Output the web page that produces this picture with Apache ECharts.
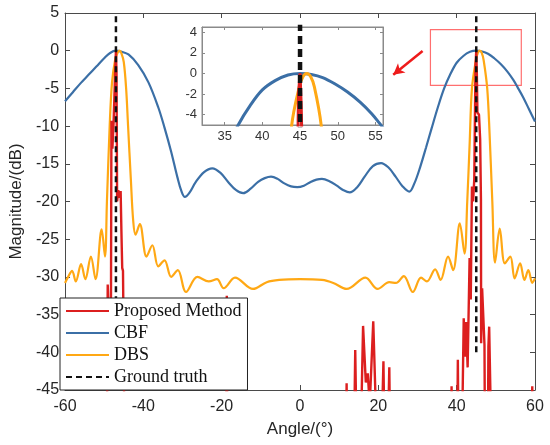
<!DOCTYPE html>
<html>
<head>
<meta charset="utf-8">
<title>Beam pattern</title>
<script src="https://cdn.jsdelivr.net/npm/echarts@6/dist/echarts.min.js"></script>
<style>
  html, body { margin: 0; padding: 0; background: #fff; }
  #chart { width: 550px; height: 445px; }
</style>
</head>
<body>
<div id="chart"></div>
<script>
// CBF beam pattern, [angle, dB]
var cbfCurve = [
    [-60, -6.7], [-58, -5.5], [-56, -4.3], [-54, -3.2], [-52, -2.1], [-50, -1.0], [-48.5, -0.3], [-47, 0],
    [-45.5, -0.15], [-43.8, -0.5], [-41.3, -1.9], [-38.7, -4.2], [-36.2, -7.5], [-34.6, -10.2], [-32.9, -13.4],
    [-31.3, -16.8], [-30.3, -18.6], [-29.4, -19.4], [-28.3, -18.9], [-26.6, -17.4], [-24.5, -16.1], [-22.4, -15.6],
    [-20.3, -16.2], [-18.2, -17.5], [-16.3, -18.5], [-14.5, -18.9], [-12.6, -18.3], [-10.7, -17.4], [-9, -16.9],
    [-7.4, -16.7], [-5.7, -17.0], [-4, -17.6], [-2.3, -18.0], [-0.7, -18.1], [1, -17.9], [2.7, -17.4], [4.2, -17.1],
    [5.6, -17.0], [7.5, -17.3], [9.4, -17.9], [11.1, -18.5], [12.7, -18.8], [14.6, -18.1], [16.5, -16.7],
    [18.6, -15.3], [20.7, -14.9], [22.6, -15.5], [24.4, -16.7], [26.2, -18.0], [27.9, -18.7], [29.2, -17.6],
    [30.7, -15.4], [32.2, -12.8], [33.6, -10.3], [35.2, -7.5], [36.8, -5.0], [38.4, -3.1], [40, -1.6], [41.7, -0.7],
    [43.4, -0.15], [45, 0], [46.5, -0.1], [48, -0.4], [49.6, -1.0], [51.3, -1.8], [53, -2.8], [54.5, -3.9],
    [55.5, -4.8], [57, -6.2], [58.5, -7.8], [60, -9.4]
];

// DBS beam pattern
var dbsCurve = [
    [-60, -30.8], [-59.2, -30.0], [-58.2, -29.2], [-57.25, -30.6], [-55.9, -28.3], [-54.8, -30.3], [-53.4, -27.3],
    [-52.2, -30.3], [-50.65, -23.7], [-49.8, -27.3], [-49.3, -20], [-48.6, -10], [-48.0, -4.2], [-47.2, -1.2],
    [-46.6, -0.3], [-46.1, 0], [-45.6, -0.35], [-45.0, -1.5], [-44.4, -5], [-43.9, -10], [-43.2, -17], [-42.6, -22.5],
    [-42.0, -24.4], [-40.9, -23.0], [-39.2, -27.3], [-37.7, -25.8], [-36.2, -28.6], [-34.6, -27.8], [-32.9, -30.0],
    [-31.2, -29.1], [-29.1, -32.0], [-26.2, -30.0], [-23.3, -30.6], [-21.2, -30.3], [-19.5, -31.5], [-16.6, -30.1],
    [-12.0, -31.6], [-8.5, -30.7], [-5.3, -30.4], [0, -30.3], [5.6, -30.4], [8.5, -30.8], [11.9, -31.6],
    [16.7, -30.1], [19.8, -31.6], [22.8, -30.7], [24.5, -30.8], [26.5, -29.9], [28.8, -32.0], [30.9, -30.1],
    [32.4, -30.6], [34.5, -29.0], [35.9, -30.4], [37.8, -27.3], [39.1, -29.1], [40.8, -22.9], [42.0, -26.9],
    [42.7, -20], [43.3, -12.5], [43.9, -5], [44.9, -1.3], [45.4, -0.3], [45.9, 0], [46.4, -0.3], [46.9, -1.3],
    [47.8, -5], [48.4, -11], [49.1, -20], [49.8, -28.1], [51.0, -23.6], [52.3, -28.2], [53.7, -27.3], [54.8, -30.2],
    [56.2, -28.2], [57.3, -30.4], [58.3, -29.1], [59.3, -30.8], [60, -30.2]
];

// proposed method (spiky, values under -45 fall below the axis)
var proposedCurve = [
    [-60, -60], [-49.4, -60], [-49.1, -31], [-48.9, -34], [-48.5, -45], [-48.3, -40], [-48.15, -9.3], [-47.9, -13],
    [-47.6, -9.5], [-47.3, -9.3], [-47.15, -2], [-47.0, 0], [-46.85, -3], [-46.7, -20], [-46.4, -18.5],
    [-46.1, -19.5], [-45.8, -18.6], [-45.6, -24], [-45.4, -28.8], [-45.2, -29.2], [-45.0, -40], [-44.7, -60],
    [-18.9, -60], [-18.7, -32.5], [-18.5, -60],
    [11.6, -60], [11.9, -44.1], [12.2, -60], [13.6, -60], [14.1, -39.7], [14.7, -60], [15.5, -52], [16.1, -36.5],
    [16.8, -44], [17.3, -42.8], [17.8, -47], [18.7, -35.9], [19.5, -50], [20.0, -60], [20.8, -52], [21.3, -41.2],
    [21.8, -60], [22.4, -52], [22.8, -42], [23.2, -60],
    [38.4, -60], [38.7, -44.5], [39.0, -60], [40.0, -60], [40.3, -41], [40.6, -60], [41.4, -50], [41.8, -35.5],
    [42.1, -40.6], [42.4, -36], [42.8, -42], [43.3, -27.5], [43.6, -33], [43.9, -18], [44.2, -20], [44.5, -17],
    [44.8, -2], [45.0, 0], [45.15, -3], [45.3, -8.2], [45.7, -8.5], [46.0, -11.8], [46.2, -19.8], [46.25, -38.8],
    [46.5, -31.5], [46.9, -31.6], [47.1, -39], [47.3, -60], [47.9, -60], [48.1, -39.3], [48.3, -36.6],
    [48.6, -45], [48.8, -60],
    [59.1, -60], [59.3, -44.5], [59.5, -60], [60, -60]
];

// ground truth directions and the span of the dashed lines
var truthAngles = [-47, 45];
var truthSpan = [-40, 5];

// zoom box (x0, x1, y0, y1) and arrow towards the inset
var zoomBox = [33.3, 56.5, -4.6, 2.8];
var arrowFrom = [31.3, -0.05];
var arrowTo = [23.8, -3.2];

var legendNames = ['Proposed Method', 'CBF', 'DBS', 'Ground truth'];

var chart = echarts.init(document.getElementById('chart'));

var axisFont = 'Liberation Sans, Arial, sans-serif';
var mainAxisColor = '#4a4a4a';
var insetAxisColor = '#8a8a8a';

function lineSeries(name, data, color, width, grid, extra) {
    var s = {
        name: name,
        type: 'line',
        xAxisIndex: grid === 0 ? 0 : 2,
        yAxisIndex: grid === 0 ? 0 : 2,
        data: data,
        symbol: 'none',
        clip: true,
        lineStyle: { color: color, width: width },
        itemStyle: { color: color },
        emphasis: { disabled: true }
    };
    for (var k in extra) s[k] = extra[k];
    return s;
}

function truthSeries(grid, width, dash) {
    return truthAngles.map(function (a) {
        return lineSeries('Ground truth', [[a, truthSpan[0]], [a, truthSpan[1]]], '#111', width, grid, {
            lineStyle: { color: '#111', width: width, type: dash }
        });
    });
}

function buildSeries(grid) {
    var w = grid === 0 ? 2.2 : 3;
    var list = [
        lineSeries('CBF', cbfCurve, '#3b6fa6', w, grid, { smooth: 0.35 }),
        lineSeries('DBS', dbsCurve, '#ffa814', w, grid, { smooth: 0.35 }),
        lineSeries('Proposed Method', proposedCurve, '#dc1f1f', grid === 0 ? 2.4 : 3, grid, {})
    ];
    return list.concat(truthSeries(grid, grid === 0 ? 2.5 : 4.5, grid === 0 ? [6, 4] : [8, 5]));
}

var series = buildSeries(0).concat(buildSeries(1));

// annotations in the main plot
series.push({
    type: 'line',
    xAxisIndex: 0,
    yAxisIndex: 0,
    data: [],
    symbol: 'none',
    silent: true,
    markArea: {
        silent: true,
        label: { show: false },
        itemStyle: { color: 'rgba(0,0,0,0)', borderColor: '#ff6f6f', borderWidth: 1.2 },
        data: [[{ coord: [zoomBox[0], zoomBox[3]] }, { coord: [zoomBox[1], zoomBox[2]] }]]
    },
    markLine: {
        silent: true,
        symbol: ['none', 'arrow'],
        symbolSize: [9, 11],
        label: { show: false },
        lineStyle: { color: '#ee1b1b', width: 2.5, type: 'solid' },
        data: [[{ coord: arrowFrom }, { coord: arrowTo }]]
    }
});

function frameAxis(grid, pos, min, max, interval, color, len) {
    var a = {
        gridIndex: grid,
        type: 'value',
        position: pos,
        min: min,
        max: max,
        axisLine: { show: true, onZero: false, lineStyle: { color: color, width: 1 } },
        axisTick: { show: true, inside: true, length: len, lineStyle: { color: color } },
        axisLabel: { show: false },
        splitLine: { show: false }
    };
    if (interval) a.interval = interval; else a.splitNumber = 5;
    return a;
}

var xMain = frameAxis(0, 'bottom', -60, 60, 20, mainAxisColor, 5);
xMain.axisLabel = { show: true, fontSize: 16, color: '#262626', fontFamily: axisFont, margin: 9 };
xMain.name = 'Angle/(°)';
xMain.nameLocation = 'middle';
xMain.nameGap = 31;
xMain.nameTextStyle = { fontSize: 17, color: '#262626', fontFamily: axisFont };

var yMain = frameAxis(0, 'left', -45, 5, 5, mainAxisColor, 5);
yMain.axisLabel = { show: true, fontSize: 16, color: '#262626', fontFamily: axisFont, margin: 6 };
yMain.name = 'Magnitude/(dB)';
yMain.nameLocation = 'middle';
yMain.nameGap = 33;
yMain.nameTextStyle = { fontSize: 17, color: '#262626', fontFamily: axisFont };

var xInset = frameAxis(1, 'bottom', 32, 56, null, insetAxisColor, 3);
xInset.axisLabel = { show: true, fontSize: 13, color: '#333', fontFamily: axisFont, margin: 5,
    showMinLabel: false, showMaxLabel: false };

var yInset = frameAxis(1, 'left', -5, 4.5, null, insetAxisColor, 3);
yInset.axisLabel = { show: true, fontSize: 13, color: '#333', fontFamily: axisFont, margin: 5,
    showMinLabel: false, showMaxLabel: false };

var option = {
    animation: false,
    backgroundColor: '#fff',
    grid: [
        { left: 57, right: 15, top: 13, bottom: 55, containLabel: false },
        { left: 202, top: 27, width: 181, height: 98, show: true, borderColor: insetAxisColor, borderWidth: 1 }
    ],
    xAxis: [
        xMain,
        frameAxis(0, 'top', -60, 60, 20, mainAxisColor, 5),
        xInset,
        frameAxis(1, 'top', 32, 56, null, insetAxisColor, 3)
    ],
    yAxis: [
        yMain,
        frameAxis(0, 'right', -45, 5, 5, mainAxisColor, 5),
        yInset,
        frameAxis(1, 'right', -5, 4.5, null, insetAxisColor, 3)
    ],
    legend: {
        data: legendNames,
        orient: 'vertical',
        left: 60,
        top: 298,
        itemWidth: 43,
        itemHeight: 12,
        itemGap: 4,
        padding: [4, 6, 4, 5],
        backgroundColor: '#fff',
        borderColor: '#222',
        borderWidth: 1,
        borderRadius: 0,
        selectedMode: false,
        itemStyle: { opacity: 0 },
        textStyle: { fontFamily: 'Liberation Serif, Times New Roman, serif', fontSize: 18, color: '#111', lineHeight: 18 }
    },
    series: series
};

chart.setOption(option);
</script>
</body>
</html>
